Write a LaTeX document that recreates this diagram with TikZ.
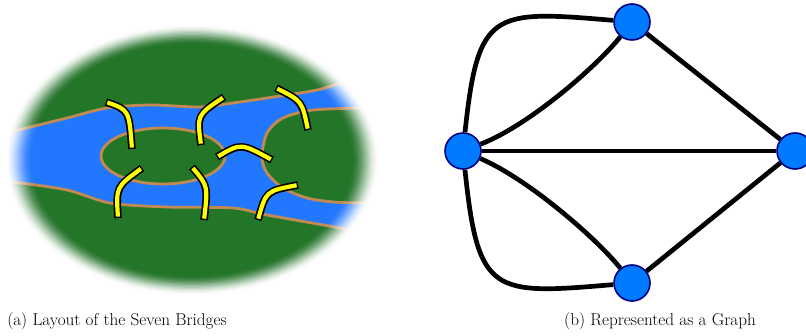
\documentclass[tikz,border=0pt]{standalone}
\usepackage{fontspec}
\definecolor{land}{RGB}{35,117,40}
\definecolor{water}{RGB}{34,119,255}
\definecolor{shore}{RGB}{192,138,82}
\definecolor{deck}{RGB}{255,255,0}
\definecolor{vfill}{RGB}{0,122,255}
\definecolor{vline}{RGB}{0,0,128}
\newcommand\bridgearc[3]{%
  \draw[bridgeedge] #1 .. controls #2 .. #3;
  \draw[bridgedeck] #1 .. controls #2 .. #3;}
\begin{document}
\begin{tikzpicture}[x=1pt,y=-1pt,
  bank/.style={draw=shore,line width=2.8pt},
  bridgeedge/.style={draw=black,line width=7.6pt},
  bridgedeck/.style={draw=deck,line width=4.2pt,shorten <=1.4pt,shorten >=1.4pt},
  vertex/.style={circle,fill=vfill,draw=vline,line width=1.6pt,minimum size=36pt,inner sep=0pt},
  edge/.style={draw=black,line width=4.7pt},
  caption/.style={anchor=base,inner sep=0pt,font=\fontsize{17.2}{20}\selectfont}]
\fill[white] (0,0) rectangle (806,336);
\useasboundingbox (0,0) rectangle (806,336);

% ---- the island map ----
\begin{scope}
  \clip (192,160) ellipse [x radius=189pt, y radius=137pt];
  \fill[land] (-10,0) rectangle (400,336);
  % river body
  \fill[water] plot[smooth] coordinates {(-10,137) (10,132) (67,118) (107,108) (150,105) (200,107) (233,103) (267,98) (317,90) (350,80) (400,66)}
    -- (420,66) -- (420,240)
    -- plot[smooth] coordinates {(400,240) (340,228) (267,215) (233,208) (167,207) (110,203) (67,190) (13,182) (-10,180)} -- cycle;
  % river banks
  \draw[bank] plot[smooth] coordinates {(-10,137) (10,132) (67,118) (107,108) (150,105) (200,107) (233,103) (267,98) (317,90) (350,80) (400,66)};
  \draw[bank] plot[smooth] coordinates {(-10,180) (13,182) (67,190) (110,203) (167,207) (233,208) (267,215) (340,228) (400,240)};
  % central island
  \filldraw[fill=land,bank] (163,156) ellipse [x radius=62pt, y radius=28pt];
  % eastern island
  \filldraw[fill=land,bank] (420,108) -- plot[smooth] coordinates {(363,108) (313,110) (283,118) (267,133) (262,157) (267,173) (283,188) (307,198) (333,202) (360,203)} -- (420,203) -- cycle;
  % the seven bridges
  \bridgearc{(106,102)}{(129,110)}{(132,149)}
  \bridgearc{(224,97)}{(197,115)}{(201,145)}
  \bridgearc{(276,88)}{(302,101)}{(308,130)}
  \bridgearc{(217,157)}{(241,143)}{(272,160)}
  \bridgearc{(142,168)}{(116,187)}{(118,218)}
  \bridgearc{(192,167)}{(208,186)}{(204,220)}
  \bridgearc{(298,185)}{(266,191)}{(258,220)}
\end{scope}
% soft edge of the map: stacked white rings, smoothstep profile
\foreach \s/\o in {0.85/0.013,0.86/0.036,0.87/0.058,0.88/0.080,0.89/0.102,
                   0.90/0.125,0.91/0.151,0.92/0.182,0.93/0.218,0.94/0.263,
                   0.95/0.324,0.96/0.407,0.97/0.533,0.98/0.738,0.99/1} {
  \pgfmathsetmacro\rx{188*\s}
  \pgfmathsetmacro\ry{136*\s}
  \fill[white,fill opacity=\o,even odd rule] (-10,-5) rectangle (410,341)
    (192,160) ellipse [x radius=\rx pt, y radius=\ry pt];
}

% ---- the graph ----
\node[vertex] (t) at (632,22) {};
\node[vertex] (l) at (463,151) {};
\node[vertex] (r) at (795,151) {};
\node[vertex] (b) at (632,283) {};
\draw[edge] (l) .. controls (478,10) and (492,10) .. (t);
\draw[edge] (l) .. controls (530,125) and (598,65) .. (t);
\draw[edge] (l) .. controls (478,295) and (492,295) .. (b);
\draw[edge] (l) .. controls (530,180) and (598,240) .. (b);
\draw[edge] (l) -- (r);
\draw[edge] (t) -- (r);
\draw[edge] (b) -- (r);

% ---- captions ----
\node[caption] (capa) at (117,326) {(a) Layout of the Seven Bridges};
\node[caption] (capb) at (660,326) {(b) Represented as a Graph};
\end{tikzpicture}
\end{document}
